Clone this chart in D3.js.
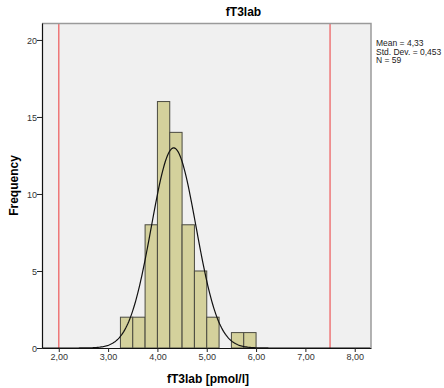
<!DOCTYPE html>
<html>
<head>
<meta charset="utf-8">
<script src="https://cdn.jsdelivr.net/npm/d3@7"></script>
<style>
  body { margin: 0; background: #fff; }
  svg { font-family: "Liberation Sans", Arial, sans-serif; }
</style>
</head>
<body>
<div id="chart"></div>
<script>
// histogram bins (lower edge, width 0.25) and counts
const binStarts = [3.25, 3.5, 3.75, 4.0, 4.25, 4.5, 4.75, 5.0, 5.25, 5.5, 5.75]
const counts = [2, 2, 8, 16, 14, 8, 5, 2, 0, 1, 1]
const binWidth = 0.25
const xTicks = [2, 3, 4, 5, 6, 7, 8]
const yTicks = [0, 5, 10, 15, 20]
const refLines = [2.0, 7.5]
const mean = 4.33, sd = 0.453, n = 59
const statLines = ["Mean = 4,33", "Std. Dev. = 0,453", "N = 59"]

const W = 444, H = 388
const margin = { top: 23, right: 73, bottom: 40, left: 42 }
const width = W - margin.left - margin.right,
  height = H - margin.top - margin.bottom

const svg = d3.select("#chart").append("svg")
  .attr("width", W)
  .attr("height", H)

const g = svg.append("g")
  .attr("transform", `translate(${margin.left},${margin.top})`)

const x = d3.scaleLinear().domain([1.66, 8.33]).range([0, width])
const y = d3.scaleLinear().domain([0, 21.1]).range([height, 0])

// plot background
g.append("rect")
  .attr("width", width).attr("height", height)
  .attr("fill", "#f0f0f0")

// reference lines
g.selectAll(".ref")
  .data(refLines)
  .join("line")
  .attr("x1", d => x(d)).attr("x2", d => x(d))
  .attr("y1", 0).attr("y2", height)
  .attr("stroke", "#ee7677")
  .attr("stroke-width", 1.5)

// bars
g.selectAll(".bar")
  .data(binStarts.map((s, i) => ({ s, c: counts[i] })).filter(d => d.c > 0))
  .join("rect")
  .attr("class", "bar")
  .attr("x", d => x(d.s))
  .attr("y", d => y(d.c))
  .attr("width", d => x(d.s + binWidth) - x(d.s))
  .attr("height", d => y(0) - y(d.c))
  .attr("fill", "#d4d19c")
  .attr("stroke", "#4a4a40")
  .attr("stroke-width", 1)

// fitted normal curve
const curve = d3.range(1.66, 8.33, 0.02).map(v => [
  v, n * binWidth / (sd * Math.sqrt(2 * Math.PI)) * Math.exp(-0.5 * ((v - mean) / sd) ** 2)
])
g.append("path")
  .datum(curve)
  .attr("fill", "none")
  .attr("stroke", "#111")
  .attr("stroke-width", 1.2)
  .attr("d", d3.line().x(d => x(d[0])).y(d => y(d[1])))

// frame top/right
g.append("path")
  .attr("d", `M0,0.5H${width}V${height}`)
  .attr("fill", "none")
  .attr("stroke", "#9a9a9a")
  .attr("stroke-width", 1.5)

// axes
const xAxis = g.append("g")
  .attr("transform", `translate(0,${height})`)
  .call(d3.axisBottom(x).tickValues(xTicks).tickSize(4).tickSizeOuter(0)
    .tickFormat(d => d3.format(".2f")(d).replace(".", ",")))
const yAxis = g.append("g")
  .call(d3.axisLeft(y).tickValues(yTicks).tickSize(5).tickSizeOuter(0))

for (const ax of [xAxis, yAxis]) {
  ax.select(".domain").attr("stroke", "#111").attr("stroke-width", 1.2)
  ax.selectAll(".tick line").attr("stroke", "#222")
  ax.selectAll(".tick text").attr("fill", "#333").attr("font-size", "9px")
    .attr("font-family", "Liberation Sans, Arial, sans-serif")
}
yAxis.selectAll(".tick text").attr("x", -5).attr("dy", "0.35em")
xAxis.selectAll(".tick text").attr("y", 6)

// titles
svg.append("text")
  .attr("x", margin.left + width / 2 + 37).attr("y", 16)
  .attr("text-anchor", "middle")
  .attr("font-size", "12px").attr("font-weight", "bold")
  .text("fT3lab")

svg.append("text")
  .attr("x", 208).attr("y", 383)
  .attr("text-anchor", "middle")
  .attr("font-size", "12px").attr("font-weight", "bold")
  .text("fT3lab [pmol/l]")

svg.append("text")
  .attr("transform", `translate(18,${margin.top + height / 2}) rotate(-90)`)
  .attr("text-anchor", "middle")
  .attr("font-size", "12px").attr("font-weight", "bold")
  .text("Frequency")

svg.selectAll(".stat")
  .data(statLines)
  .join("text")
  .attr("x", 376)
  .attr("y", (d, i) => 46 + i * 8.5)
  .attr("font-size", "8.5px")
  .attr("fill", "#222")
  .text(d => d)
</script>
</body>
</html>
